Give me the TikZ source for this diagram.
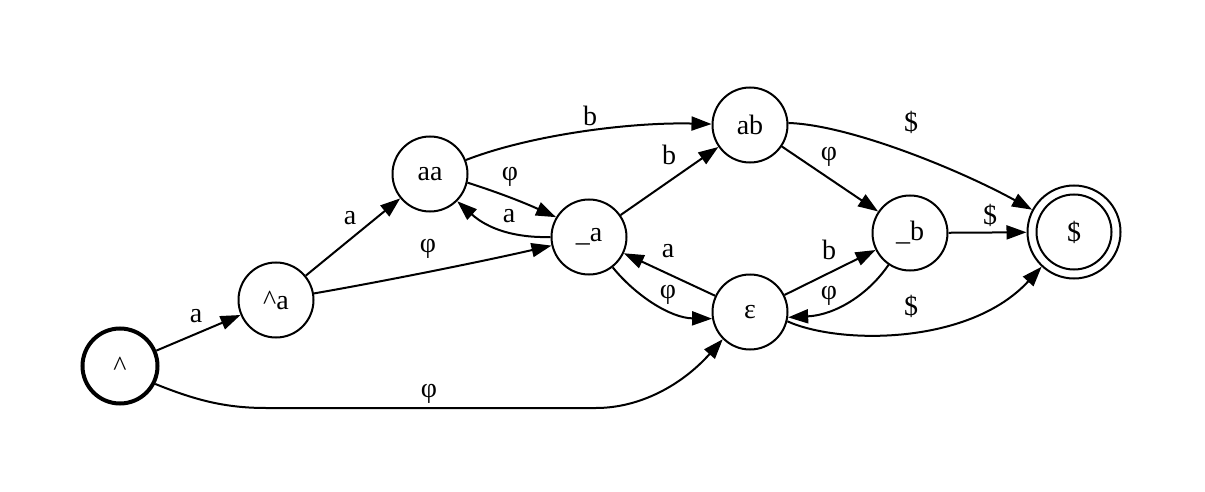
\documentclass[tikz,border=0pt]{standalone}
\usepackage{fontspec}
\setmainfont{Liberation Serif}
\usetikzlibrary{arrows.meta}
\begin{document}
\begin{tikzpicture}[x=0.5pt,y=-0.5pt,
  st/.style={circle,draw,line width=1pt,minimum size=37.5pt,inner sep=0pt,font=\fontsize{14pt}{16pt}\selectfont},
  lbl/.style={inner sep=0pt,font=\fontsize{14pt}{16pt}\selectfont},
  edge/.style={line width=1pt,-{Triangle[length=10pt,width=7pt]}}]
\useasboundingbox (0,0) rectangle (1205,492);
% states
\node[st,line width=2pt] (hat) at (120,366) {\textasciicircum};
\node[st] (hata) at (276,300) {\textasciicircum a};
\node[st] (aa) at (430,174) {aa};
\node[st] (ua) at (589,237) {\_a};
\node[st] (ab) at (750,125) {ab};
\node[st] (eps) at (750,312) {ε};
\node[st] (ub) at (910,233) {\_b};
\node[st,minimum size=46.5pt] (acc) at (1074,232) {\$};
\draw[line width=1pt] (acc.center) circle[radius=18.75pt];
% waypoints
\coordinate (w1) at (266,408);
\coordinate (w2) at (596,408);
% edges
\draw[edge] (hat) -- (hata);
\draw[edge] (hat.-27) .. controls (195,400) and (225,408) .. (w1) -- (w2) .. controls (640,408) and (682,385) .. (eps.-135);
\draw[edge] (hata) -- (aa);
\draw[edge] (hata) .. controls (380,282) and (480,262) .. (ua);
\draw[edge] (aa.-13) .. controls (500,193) and (525,203) .. (ua.149);
\draw[edge] (ua.180) .. controls (515,238) and (488,229) .. (aa.-45);
\draw[edge] (aa) .. controls (530,135) and (630,122) .. (ab);
\draw[edge] (ua) -- (ab);
\draw[edge] (eps) -- (ua);
\draw[edge] (ua.-52) .. controls (635,295) and (670,318) .. (eps.190);
\draw[edge] (ab) -- (ub);
\draw[edge] (ab.3) .. controls (850,125) and (960,170) .. (acc.152);
\draw[edge] (eps) -- (ub);
\draw[edge] (ub.-124) .. controls (868,295) and (835,315) .. (eps.-8);
\draw[edge] (ub) -- (acc);
\draw[edge] (eps.-14) .. controls (840,345) and (970,345) .. (acc.-133);
% labels
\node[lbl] (l1) at (196,316) {a};
\node[lbl] (l2) at (429,394) {φ};
\node[lbl] (l3) at (350,218) {a};
\node[lbl] (l4) at (428,249) {φ};
\node[lbl] (l5) at (510,177) {φ};
\node[lbl] (l6) at (509,216) {a};
\node[lbl] (l7) at (590,116) {b};
\node[lbl] (l8) at (669,155) {b};
\node[lbl] (l9) at (668,251) {a};
\node[lbl] (l10) at (668,295) {φ};
\node[lbl] (l11) at (829,157) {φ};
\node[lbl] (l12) at (911,122) {\$};
\node[lbl] (l13) at (829,250) {b};
\node[lbl] (l14) at (829,296) {φ};
\node[lbl] (l15) at (990,215) {\$};
\node[lbl] (l16) at (911,306) {\$};
\end{tikzpicture}
\end{document}
